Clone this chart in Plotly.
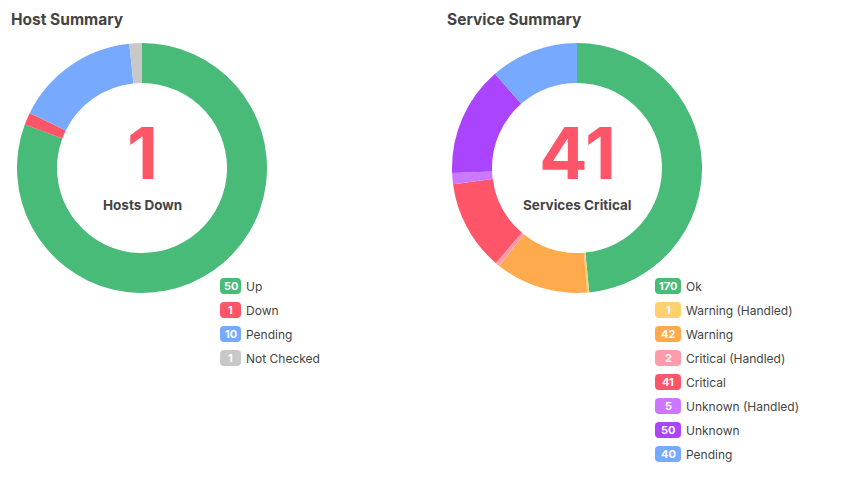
import plotly.graph_objects as go

W, H = 855, 490

host_labels = ["Up", "Down", "Pending", "Not Checked"]
host_values = [50, 1, 10, 1]
host_colors = ["#48BB78", "#FF5568", "#77AAFF", "#C8C8C8"]

svc_labels = ["Ok", "Warning (Handled)", "Warning", "Critical (Handled)", "Critical",
              "Unknown (Handled)", "Unknown", "Pending"]
svc_values = [170, 1, 42, 2, 41, 5, 50, 40]
svc_colors = ["#48BB78", "#FFD070", "#FFAA4C", "#FF9BAA", "#FF5568",
              "#CC77FF", "#AA44FF", "#77AAFF"]

host_title = "Host Summary"
svc_title = "Service Summary"
host_center = (host_values[1], "Hosts Down")
svc_center = (svc_values[4], "Services Critical")

FONT = "Inter, Roboto, Helvetica, Arial, sans-serif"
TXT = "#444444"

def px(x):
    return x / W

def py(y):
    return 1 - y / H

fig = go.Figure()

def add_donut(labels, values, colors, cx, cy, r):
    fig.add_trace(go.Pie(
        labels=labels, values=values, sort=False, direction="clockwise",
        rotation=0, hole=0.68, textinfo="none", hoverinfo="label+value",
        marker=dict(colors=colors, line=dict(width=0)),
        domain=dict(x=[px(cx - r), px(cx + r)], y=[py(cy + r), py(cy - r)]),
        showlegend=False,
    ))

add_donut(host_labels, host_values, host_colors, 142, 168, 125)
add_donut(svc_labels, svc_values, svc_colors, 577, 168, 125)

annotations = []
shapes = []

def title(text, x):
    annotations.append(dict(text=f"<b>{text}</b>", x=px(x), y=py(19), xref="paper", yref="paper",
                            xanchor="left", yanchor="middle", showarrow=False,
                            font=dict(family=FONT, size=15.5, color=TXT)))

title(host_title, 9)
title(svc_title, 445)

def center(num, label, cx):
    annotations.append(dict(text=f"<b>{num}</b>", x=px(cx), y=py(152.3), xref="paper", yref="paper",
                            xanchor="center", yanchor="middle", showarrow=False,
                            font=dict(family=FONT, size=72, color="#FF5568")))
    annotations.append(dict(text=f"<b>{label}</b>", x=px(cx), y=py(205), xref="paper", yref="paper",
                            xanchor="center", yanchor="middle", showarrow=False,
                            font=dict(family=FONT, size=13.5, color=TXT)))

center(host_center[0], host_center[1], 142)
center(svc_center[0], svc_center[1], 577)

def rounded_rect(x0, y0, x1, y1, r, color):
    path = (f"M {px(x0 + r)},{py(y0)} L {px(x1 - r)},{py(y0)} "
            f"Q {px(x1)},{py(y0)} {px(x1)},{py(y0 + r)} L {px(x1)},{py(y1 - r)} "
            f"Q {px(x1)},{py(y1)} {px(x1 - r)},{py(y1)} L {px(x0 + r)},{py(y1)} "
            f"Q {px(x0)},{py(y1)} {px(x0)},{py(y1 - r)} L {px(x0)},{py(y0 + r)} "
            f"Q {px(x0)},{py(y0)} {px(x0 + r)},{py(y0)} Z")
    shapes.append(dict(type="path", path=path, xref="paper", yref="paper",
                       fillcolor=color, line=dict(width=0), layer="above"))

def legend(labels, values, colors, x0, bw, y0):
    for i, (lab, val, col) in enumerate(zip(labels, values, colors)):
        yc = y0 + i * 24
        rounded_rect(x0, yc - 8, x0 + bw, yc + 8, 4, col)
        annotations.append(dict(text=f"<b>{val}</b>", x=px(x0 + bw / 2), y=py(yc), xref="paper",
                                yref="paper", xanchor="center", yanchor="middle", showarrow=False,
                                font=dict(family=FONT, size=11, color="white")))
        annotations.append(dict(text=lab, x=px(x0 + bw + 3), y=py(yc), xref="paper",
                                yref="paper", xanchor="left", yanchor="middle", showarrow=False,
                                font=dict(family=FONT, size=12, color=TXT)))

legend(host_labels, host_values, host_colors, 220, 21, 286)
legend(svc_labels, svc_values, svc_colors, 655, 26, 286)

fig.update_layout(
    width=W, height=H, margin=dict(l=0, r=0, t=0, b=0),
    paper_bgcolor="white", plot_bgcolor="white",
    annotations=annotations, shapes=shapes, showlegend=False,
)

fig.write_html("out.html", config={"displayModeBar": False})
